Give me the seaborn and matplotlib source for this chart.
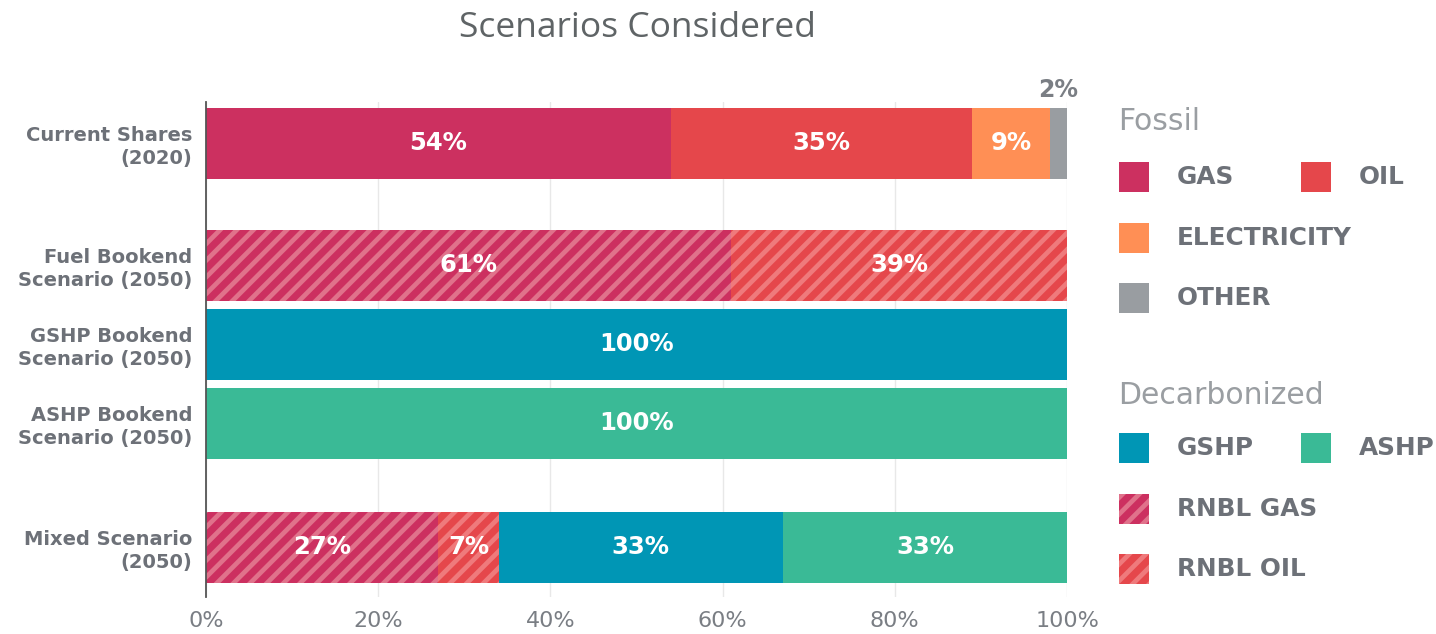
import matplotlib
matplotlib.use("Agg")
import matplotlib.pyplot as plt
from matplotlib.patches import Rectangle
import numpy as np
import pandas as pd
import seaborn as sns

# ---- data ----
scenarios = [
    "Current Shares\n(2020)",
    "Fuel Bookend\nScenario (2050)",
    "GSHP Bookend\nScenario (2050)",
    "ASHP Bookend\nScenario (2050)",
    "Mixed Scenario\n(2050)",
]
gas = [54, 0, 0, 0, 0]
oil = [35, 0, 0, 0, 0]
electricity = [9, 0, 0, 0, 0]
other = [2, 0, 0, 0, 0]
rnbl_gas = [0, 61, 0, 0, 27]
rnbl_oil = [0, 39, 0, 0, 7]
gshp = [0, 0, 100, 0, 33]
ashp = [0, 0, 0, 100, 33]

categories = ["GAS", "OIL", "ELECTRICITY", "OTHER", "RNBL GAS", "RNBL OIL", "GSHP", "ASHP"]
xticks = [0, 20, 40, 60, 80, 100]

# ---- styling ----
colors = {
    "GAS": "#CC3060", "OIL": "#E5474B", "ELECTRICITY": "#FF8F55", "OTHER": "#999DA1",
    "RNBL GAS": "#CC3060", "RNBL OIL": "#E5474B", "GSHP": "#0096B5", "ASHP": "#3ABA96",
}
stripes = {"RNBL GAS": "#E0728B", "RNBL OIL": "#EF7A7C"}
row_pos = [0, 1.54, 2.54, 3.54, 5.11]   # rows are not evenly spaced in the original
bar_h = 0.9
DARK = "#6D7178"
LIGHT = "#9A9EA2"

sns.set_theme(style="white")
plt.rcParams["font.family"] = ["DejaVu Sans"]
plt.rcParams["hatch.linewidth"] = 3.4

df = pd.DataFrame(
    {"GAS": gas, "OIL": oil, "ELECTRICITY": electricity, "OTHER": other,
     "RNBL GAS": rnbl_gas, "RNBL OIL": rnbl_oil, "GSHP": gshp, "ASHP": ashp},
    index=scenarios,
)

fig = plt.figure(figsize=(14.36, 6.34), dpi=100)
ax = fig.add_axes([206 / 1436, 1 - 597 / 634, 861 / 1436, 495 / 634])

left = np.zeros(len(scenarios))
for cat in categories:
    vals = df[cat].to_numpy(dtype=float)
    hatched = cat in stripes
    ax.barh(row_pos, vals, left=left, height=bar_h, color=colors[cat],
            edgecolor=stripes.get(cat, colors[cat]), linewidth=0,
            hatch="//" if hatched else None, zorder=3)
    for y, l, v in zip(row_pos, left, vals):
        if v <= 0:
            continue
        if v < 5:
            ax.annotate(f"{v:.0f}%", (l + v / 2, y - bar_h / 2), xytext=(0, 4),
                        textcoords="offset points", ha="center", va="bottom",
                        fontsize=17, fontweight="bold", color="#7A7E84")
        else:
            ax.text(l + v / 2, y, f"{v:.0f}%", ha="center", va="center",
                    fontsize=17.5, fontweight="bold", color="white", zorder=4)
    left += vals

ax.set_xlim(0, 100)
ax.set_ylim(5.74, -0.525)
ax.set_xticks(xticks)
ax.set_xticklabels([f"{t}%" for t in xticks], fontsize=16, color="#7A7E84")
ax.set_yticks(row_pos)
ax.set_yticklabels(scenarios, fontsize=14, fontweight="bold", color=DARK,
                   ha="right", linespacing=1.25)
ax.tick_params(axis="x", length=0, pad=10)
ax.tick_params(axis="y", length=0, pad=10)
ax.grid(axis="x", color="#E8E8E8", linewidth=1, zorder=0)
ax.grid(axis="y", visible=False)
for side in ["top", "right", "bottom"]:
    ax.spines[side].set_visible(False)
ax.spines["left"].set_color("#555555")
ax.spines["left"].set_linewidth(1.3)
ax.spines["left"].set_zorder(5)

fig.text(637 / 1436, 1 - 28 / 634, "Scenarios Considered", ha="center", va="center",
         fontsize=25.5, color="#5F6466", family=["Open Sans", "DejaVu Sans"])

# ---- legend (two groups, drawn by hand to follow the original layout) ----
def fx(px):
    return px / 1436


def fy(py):
    return 1 - py / 634


def legend_item(x, y, cat):
    hatched = cat in stripes
    fig.add_artist(Rectangle((fx(x), fy(y + 15)), 30 / 1436, 30 / 634,
                             facecolor=colors[cat], edgecolor=stripes.get(cat, colors[cat]),
                             linewidth=0, hatch="//" if hatched else None,
                             transform=fig.transFigure))
    fig.text(fx(x + 58), fy(y), cat, ha="left", va="center", fontsize=17.8,
             fontweight="bold", color=DARK)


fig.text(fx(1118), fy(122), "Fossil", ha="left", va="center", fontsize=21.5, color=LIGHT)
legend_item(1119, 177, "GAS")
legend_item(1301, 177, "OIL")
legend_item(1119, 238, "ELECTRICITY")
legend_item(1119, 298, "OTHER")

fig.text(fx(1118), fy(395), "Decarbonized", ha="left", va="center", fontsize=21.5, color=LIGHT)
legend_item(1119, 448, "GSHP")
legend_item(1301, 448, "ASHP")
legend_item(1119, 509, "RNBL GAS")
legend_item(1119, 569, "RNBL OIL")

fig.savefig("out.png", dpi=100)
